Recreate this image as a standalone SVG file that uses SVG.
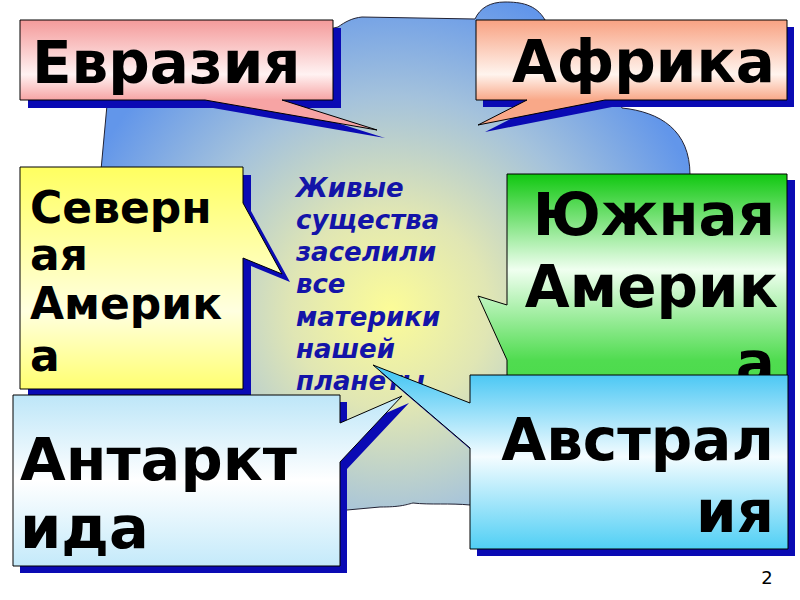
<svg xmlns="http://www.w3.org/2000/svg" width="800" height="600" viewBox="0 0 800 600">
<defs>
<style>
.shadow{fill:#0a0ab4;stroke:none}
.box{stroke:#000;stroke-width:1}
.big{font-family:"DejaVu Sans","Liberation Sans",sans-serif;font-weight:bold;fill:#000}
.mid{font-family:"DejaVu Sans","Liberation Sans",sans-serif;font-weight:bold;font-style:italic;fill:#1414a8;font-size:26px}
.pg{font-family:"DejaVu Sans","Liberation Sans",sans-serif;font-size:18px;fill:#000}
</style>
<radialGradient id="gCloud" gradientUnits="userSpaceOnUse" cx="390" cy="310" r="330">
<stop offset="0" stop-color="#fcfc98"/>
<stop offset="0.3" stop-color="#e0e6b4"/>
<stop offset="0.65" stop-color="#a4c2dc"/>
<stop offset="1" stop-color="#6296ea"/>
</radialGradient>
<linearGradient id="gEur" gradientUnits="userSpaceOnUse" x1="0" y1="20" x2="0" y2="100">
<stop offset="0" stop-color="#f49a9a"/><stop offset="0.68" stop-color="#fff2f2"/><stop offset="1" stop-color="#f7a4a4"/>
</linearGradient>
<linearGradient id="gAfr" gradientUnits="userSpaceOnUse" x1="0" y1="20" x2="0" y2="100">
<stop offset="0" stop-color="#f8a282"/><stop offset="0.68" stop-color="#fff4ee"/><stop offset="1" stop-color="#f9a888"/>
</linearGradient>
<linearGradient id="gNA" gradientUnits="userSpaceOnUse" x1="0" y1="167" x2="0" y2="389">
<stop offset="0" stop-color="#ffff60"/><stop offset="0.65" stop-color="#ffffe0"/><stop offset="1" stop-color="#ffff70"/>
</linearGradient>
<linearGradient id="gSA" gradientUnits="userSpaceOnUse" x1="0" y1="174" x2="0" y2="440">
<stop offset="0" stop-color="#10c810"/><stop offset="0.36" stop-color="#f0fff0"/><stop offset="0.7" stop-color="#50dc50"/><stop offset="1" stop-color="#40d840"/>
</linearGradient>
<linearGradient id="gAnt" gradientUnits="userSpaceOnUse" x1="0" y1="395" x2="0" y2="566">
<stop offset="0" stop-color="#bde6f8"/><stop offset="0.5" stop-color="#ffffff"/><stop offset="1" stop-color="#c4eafa"/>
</linearGradient>
<linearGradient id="gAus" gradientUnits="userSpaceOnUse" x1="0" y1="375" x2="0" y2="549">
<stop offset="0" stop-color="#4cc8f4"/><stop offset="0.47" stop-color="#f4fcff"/><stop offset="1" stop-color="#50cff5"/>
</linearGradient>
</defs>
<rect width="800" height="600" fill="#fff"/>

<g id="cloud">
<path d="M101,170 L107,105 L200,60 L338,27 C345,22 352,18 362,17 L475,19 C480,8 490,2 505,2 C520,2 536,4 545,20 L600,60 L622,108 C660,112 690,130 690,175 L690,380 L470,505 C450,503 430,505 413,503 C405,505 400,507 380,507 L347,510 L100,500 Z" fill="url(#gCloud)" stroke="#223" stroke-width="1"/>
</g>

<g id="center-text">
<text class="mid" x="296" y="197">Живые</text>
<text class="mid" x="296" y="229">существа</text>
<text class="mid" x="296" y="261">заселили</text>
<text class="mid" x="296" y="293">все</text>
<text class="mid" x="296" y="326">материки</text>
<text class="mid" x="296" y="358">нашей</text>
<text class="mid" x="296" y="390">планеты</text>
</g>

<g id="eurasia">
<path class="shadow" transform="translate(8,8)" d="M20,20 H333 V100 H282 L377,130 L205,100 H20 Z"/>
<path class="box" fill="url(#gEur)" d="M20,20 H333 V100 H282 L377,130 L205,100 H20 Z"/>
<text class="big" x="32" y="83" font-size="58">Евразия</text>
</g>

<g id="africa">
<path class="shadow" transform="translate(7,7)" d="M476,20 H787 V100 H605 L478,125 L527,100 H476 Z"/>
<path class="box" fill="url(#gAfr)" d="M476,20 H787 V100 H605 L478,125 L527,100 H476 Z"/>
<text class="big" x="775" y="82" font-size="58" text-anchor="end">Африка</text>
</g>

<g id="north-america">
<path class="shadow" transform="translate(8,8)" d="M20,167 H243 V203 L282,274 L243,258 V389 H20 Z"/>
<path class="box" fill="url(#gNA)" d="M20,167 H243 V203 L282,274 L243,258 V389 H20 Z"/>
<text class="big" x="30" y="223" font-size="44">Северн</text>
<text class="big" x="30" y="270" font-size="44">ая</text>
<text class="big" x="30" y="319" font-size="44">Америк</text>
<text class="big" x="30" y="371" font-size="44">а</text>
</g>

<g id="south-america">
<rect class="shadow" x="515" y="180" width="280" height="266"/>
<path class="box" fill="url(#gSA)" d="M507,174 H787 V440 H507 V360 L478,296 L507,305 Z"/>
<text class="big" x="775" y="235" font-size="58" text-anchor="end">Южная</text>
<text class="big" x="778" y="307" font-size="58" text-anchor="end">Америк</text>
<text class="big" x="775" y="383" font-size="58" text-anchor="end">а</text>
</g>

<g id="antarctica">
<path class="shadow" transform="translate(7,7)" d="M13,395 H340 V423 L402,396 L340,462 V566 H13 Z"/>
<path class="box" fill="url(#gAnt)" d="M13,395 H340 V423 L402,396 L340,462 V566 H13 Z"/>
<text class="big" x="20" y="480" font-size="59">Антаркт</text>
<text class="big" x="20" y="548" font-size="59">ида</text>
</g>

<g id="australia">
<path class="shadow" transform="translate(7,7)" d="M470,375 H788 V549 H470 V448 L373,365 L470,403 Z"/>
<path class="box" fill="url(#gAus)" d="M470,375 H788 V549 H470 V448 L373,365 L470,403 Z"/>
<text class="big" x="774" y="460" font-size="58" text-anchor="end">Австрал</text>
<text class="big" x="774" y="532" font-size="58" text-anchor="end">ия</text>
</g>

<g id="connectors"></g>

<text class="pg" x="767" y="584" text-anchor="middle">2</text>
</svg>
